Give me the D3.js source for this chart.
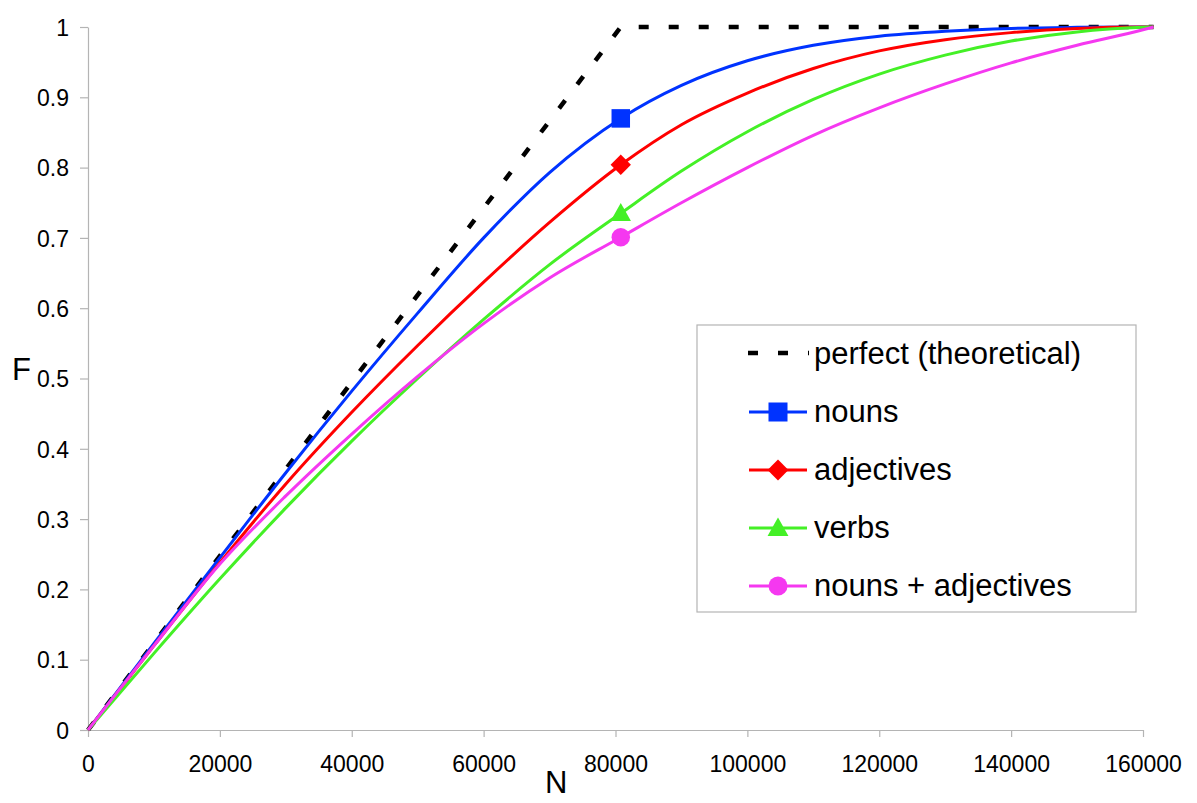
<!DOCTYPE html>
<html>
<head>
<meta charset="utf-8">
<script src="https://cdn.jsdelivr.net/npm/d3@7"></script>
<style>
  html, body { margin: 0; padding: 0; background: #ffffff; }
  svg { display: block; }
  text { font-family: "Liberation Sans", Arial, Helvetica, sans-serif; fill: #000; }
</style>
</head>
<body>
<svg id="chart" width="1197" height="803"></svg>
<script>
// ---------------- data ----------------
const nValues = [0, 10000, 20000, 30000, 40000, 50000, 60000, 70000, 80800, 90000, 100000, 110000, 120000, 130000, 140000, 150000, 160000, 161600];
const nouns          = [0, 0.123, 0.245, 0.366, 0.482, 0.593, 0.700, 0.793, 0.870, 0.917, 0.952, 0.974, 0.987, 0.994, 0.998, 0.9995, 1.000, 1.000];
const adjectives     = [0, 0.120, 0.238, 0.350, 0.452, 0.547, 0.637, 0.722, 0.804, 0.861, 0.906, 0.941, 0.966, 0.982, 0.992, 0.998, 1.000, 1.000];
const verbs          = [0, 0.109, 0.215, 0.316, 0.411, 0.500, 0.584, 0.662, 0.735, 0.795, 0.851, 0.897, 0.933, 0.960, 0.980, 0.993, 0.9995, 1.000];
const nounsAdj       = [0, 0.120, 0.236, 0.333, 0.421, 0.503, 0.578, 0.643, 0.701, 0.750, 0.800, 0.846, 0.885, 0.919, 0.949, 0.974, 0.996, 1.000];
const perfectN       = [0, 80800, 161600];
const perfectF       = [0, 1, 1];
const markerN        = 80800;

const seriesNames  = ["perfect (theoretical)", "nouns", "adjectives", "verbs", "nouns + adjectives"];
const seriesColors = ["#000000", "#0033ff", "#ff0000", "#44f026", "#f538f0"];
const seriesShapes = ["none", "square", "diamond", "triangle", "circle"];

const xTickValues = [0, 20000, 40000, 60000, 80000, 100000, 120000, 140000, 160000];
const xTickLabels = ["0", "20000", "40000", "60000", "80000", "100000", "120000", "140000", "160000"];
const yTickValues = [0, 0.1, 0.2, 0.3, 0.4, 0.5, 0.6, 0.7, 0.8, 0.9, 1];
const yTickLabels = ["0", "0.1", "0.2", "0.3", "0.4", "0.5", "0.6", "0.7", "0.8", "0.9", "1"];
const xTitle = "N";
const yTitle = "F";

// ---------------- chart ----------------
const svg = d3.select("#chart");
svg.append("rect").attr("width", 1197).attr("height", 803).attr("fill", "#fff");

const x = d3.scaleLinear().domain([0, 160000]).range([88, 1143]);
const y = d3.scaleLinear().domain([0, 1]).range([730, 27]);
const axisColor = "#b4b4b4";

// axes
const xAxis = svg.append("g").attr("transform", "translate(0,730)")
  .call(d3.axisBottom(x).tickValues(xTickValues).tickFormat((d, i) => xTickLabels[i]).tickSize(7).tickSizeOuter(0));
xAxis.select(".domain").attr("stroke", axisColor).attr("stroke-width", 1.2);
xAxis.selectAll(".tick line").attr("stroke", axisColor).attr("stroke-width", 1.2);
xAxis.selectAll(".tick text").attr("dy", null).attr("y", 42).attr("font-size", 23)
  .attr("font-family", "Liberation Sans, Arial, sans-serif").attr("fill", "#000");

const yAxis = svg.append("g").attr("transform", "translate(88,0)")
  .call(d3.axisLeft(y).tickValues(yTickValues).tickFormat((d, i) => yTickLabels[i]).tickSize(8).tickPadding(11).tickSizeOuter(0));
yAxis.select(".domain").attr("stroke", axisColor).attr("stroke-width", 1.2);
yAxis.selectAll(".tick line").attr("stroke", axisColor).attr("stroke-width", 1.2);
yAxis.selectAll(".tick text").attr("font-size", 23).attr("dy", "0.36em")
  .attr("font-family", "Liberation Sans, Arial, sans-serif").attr("fill", "#000");

// axis titles
svg.append("text").attr("x", 12).attr("y", 380).attr("font-size", 31).text(yTitle);
svg.append("text").attr("x", 545).attr("y", 793).attr("font-size", 31).text(xTitle);

// lines
const curveLine = d3.line().x(d => x(d[0])).y(d => y(d[1])).curve(d3.curveMonotoneX);
const straightLine = d3.line().x(d => x(d[0])).y(d => y(d[1]));

svg.append("path")
  .attr("d", straightLine(perfectN.map((n, i) => [n, perfectF[i]])))
  .attr("fill", "none").attr("stroke", seriesColors[0]).attr("stroke-width", 4.5)
  .attr("stroke-dasharray", "10,20");

const curveSeries = [nouns, adjectives, verbs, nounsAdj];
curveSeries.forEach((vals, k) => {
  svg.append("path")
    .attr("d", curveLine(nValues.map((n, i) => [n, vals[i]])))
    .attr("fill", "none").attr("stroke", seriesColors[k + 1]).attr("stroke-width", 3)
    .attr("stroke-linejoin", "round");
});

function drawMarker(g, shape, cx, cy, color, s) {
  if (shape === "square") {
    g.append("rect").attr("x", cx - s / 2).attr("y", cy - s / 2).attr("width", s).attr("height", s).attr("fill", color);
  } else if (shape === "diamond") {
    const h = s * 0.55;
    g.append("path").attr("d", `M${cx},${cy - h}L${cx + h},${cy}L${cx},${cy + h}L${cx - h},${cy}Z`).attr("fill", color);
  } else if (shape === "triangle") {
    const w = s * 0.55;
    g.append("path").attr("d", `M${cx},${cy - s * 0.55}L${cx + w},${cy + s * 0.42}L${cx - w},${cy + s * 0.42}Z`).attr("fill", color);
  } else if (shape === "circle") {
    g.append("circle").attr("cx", cx).attr("cy", cy).attr("r", s / 2).attr("fill", color);
  }
}

// markers at half point
curveSeries.forEach((vals, k) => {
  const idx = nValues.indexOf(markerN);
  drawMarker(svg, seriesShapes[k + 1], x(markerN), y(vals[idx]), seriesColors[k + 1], 18.5);
});

// legend
const legend = svg.append("g");
legend.append("rect").attr("x", 697).attr("y", 325).attr("width", 439).attr("height", 287)
  .attr("fill", "#fff").attr("stroke", axisColor).attr("stroke-width", 1.2);
seriesNames.forEach((name, i) => {
  const cy = 354 + i * 58;
  if (i === 0) {
    legend.append("line").attr("x1", 748).attr("x2", 809).attr("y1", cy - 1).attr("y2", cy - 1)
      .attr("stroke", seriesColors[0]).attr("stroke-width", 4.5).attr("stroke-dasharray", "10,20");
  } else {
    legend.append("line").attr("x1", 749).attr("x2", 807).attr("y1", cy).attr("y2", cy)
      .attr("stroke", seriesColors[i]).attr("stroke-width", 3);
    drawMarker(legend, seriesShapes[i], 778, cy, seriesColors[i], 19);
  }
  legend.append("text").attr("x", 814).attr("y", cy + 10).attr("font-size", 31).text(name);
});
</script>
</body>
</html>
